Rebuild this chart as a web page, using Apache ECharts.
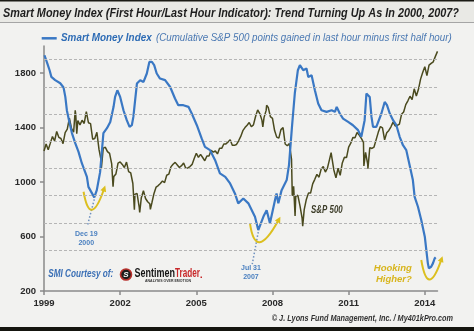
<!DOCTYPE html>
<html><head><meta charset="utf-8">
<script src="https://cdn.jsdelivr.net/npm/echarts@6/dist/echarts.min.js"></script>
<style>html,body{margin:0;padding:0;background:#f2f2f0;}#c{width:474px;height:331px;}</style>
</head><body><div id="c"></div>
<script>
// ---- data ----
const yearTicks = [1999, 2002, 2005, 2008, 2011, 2014];
const leftAxisLabels = [200, 600, 1000, 1400, 1800];
const gridValues = [500, 700, 900, 1100, 1300, 1500, 1700, 1900];

const spxStartValue = 1229; // 1999-01-01
const spxMonthEnd = [
 1279.6,1238.3,1286.4,1335.2,1301.8,1372.7,1328.7,1320.4,1282.7,1362.9,1388.9,1469.3,
 1394.5,1366.4,1498.6,1452.4,1420.6,1454.6,1430.8,1517.7,1436.5,1429.4,1315.2,1320.3,
 1366.0,1239.9,1160.3,1249.5,1255.8,1224.4,1211.2,1133.6,1040.9,1059.8,1139.5,1148.1,
 1130.2,1106.7,1147.4,1076.9,1067.1,989.8,911.6,916.1,815.3,885.8,936.3,879.8,
 855.7,841.2,848.2,916.9,963.6,974.5,990.3,1008.0,996.0,1050.7,1058.2,1111.9,
 1131.1,1144.9,1126.2,1107.3,1120.7,1140.8,1101.7,1104.2,1114.6,1130.2,1173.8,1211.9,
 1181.3,1203.6,1180.6,1156.9,1191.5,1191.3,1234.2,1220.3,1228.8,1207.0,1249.5,1248.3,
 1280.1,1280.7,1294.8,1310.6,1270.1,1270.2,1276.7,1303.8,1335.9,1377.9,1400.6,1418.3,
 1438.2,1406.8,1420.9,1482.4,1530.6,1503.4,1455.3,1474.0,1526.8,1549.4,1481.1,1468.4,
 1378.6,1330.6,1322.7,1385.6,1400.4,1280.0,1267.4,1282.8,1166.4,968.8,896.2,903.3,
 825.9,735.1,797.9,872.8,919.1,919.3,987.5,1020.6,1057.1,1036.2,1095.6,1115.1,
 1073.9,1104.5,1169.4,1186.7,1089.4,1030.7,1101.6,1049.3,1141.2,1183.3,1180.6,1257.6,
 1286.1,1327.2,1325.8,1363.6,1345.2,1320.6,1292.3,1218.9,1131.4,1253.3,1247.0,1257.6,
 1312.4,1365.7,1408.5,1397.9,1310.3,1362.2,1379.3,1406.6,1440.7,1412.2,1416.2,1426.2,
 1498.1,1514.7,1569.2,1597.6,1630.7,1606.3,1685.7,1633.0,1681.6,1756.5,1805.8,1848.4,
 1782.6,1859.5,1872.3,1884.0,1923.6,1960.2
];
const spxExtremeDates  = [2000.23,2000.29,2001.26,2001.72,2002.56,2002.77,2003.19,2007.62,2007.77,2008.78,2008.89,2009.19,2010.31,2010.50,2011.33,2011.60,2011.76];
const spxExtremeValues = [1527,1356,1103,966,797,777,800,1406,1565,899,752,677,1217,1022,1364,1119,1099];

const smiDates = [1999.02,1999.13,1999.22,1999.29,1999.44,1999.64,1999.77,1999.84,1999.90,
 2000.01,2000.10,2000.23,2000.36,2000.49,2000.69,2000.75,2000.98,
 2001.08,2001.21,2001.34,2001.48,2001.61,2001.74,2001.80,2001.89,
 2002.00,2002.13,2002.26,2002.37,2002.46,2002.52,2002.59,2002.66,2002.79,2002.92,
 2003.05,2003.15,2003.25,2003.34,2003.44,2003.57,2003.77,2003.97,
 2004.16,2004.29,2004.49,2004.69,2004.82,
 2005.02,2005.21,2005.34,2005.54,2005.74,2005.93,
 2006.14,2006.33,2006.52,2006.65,2006.85,
 2007.05,2007.31,2007.44,2007.64,2007.77,2007.90,
 2008.10,2008.16,2008.23,2008.36,2008.56,2008.65,2008.77,2008.88,
 2009.00,2009.08,2009.21,2009.34,2009.41,2009.54,2009.67,2009.80,2009.93,
 2010.13,2010.33,2010.46,2010.53,2010.65,2010.78,2010.98,
 2011.17,2011.37,2011.50,2011.63,2011.70,2011.76,2011.83,2011.90,2011.96,
 2012.09,2012.29,2012.42,2012.51,2012.62,2012.75,2012.88,
 2013.01,2013.14,2013.27,2013.40,2013.53,2013.60,2013.73,2013.86,
 2014.00,2014.06,2014.12,2014.16,2014.25,2014.32,2014.39,2014.43];
const smiValues = [1932,1873,1822,1773,1749,1726,1695,1626,1528,
 1433,1360,1286,1222,1139,1039,965,888,
 941,1073,1360,1396,1442,1553,1626,1675,
 1626,1528,1455,1406,1418,1479,1602,1724,1749,1736,
 1798,1883,1883,1859,1798,1761,1749,1699,
 1614,1565,1565,1553,1504,
 1418,1321,1259,1235,1161,1064,
 1039,990,917,844,880,
 844,745,648,745,794,697,
 868,917,844,941,1015,1125,1411,1653,
 1822,1859,1822,1834,1773,1785,1675,1578,1528,
 1516,1528,1516,1553,1504,1467,1442,
 1418,1382,1333,1455,1651,1663,1626,1479,1406,
 1406,1504,1589,1565,1504,1455,1418,
 1333,1271,1235,1125,1015,892,819,721,
 599,501,403,367,378,403,440,447];

// ---- build series data ----
const spxData = [[1999, spxStartValue]];
spxMonthEnd.forEach((v, i) => spxData.push([1999 + (i + 1) / 12, v]));
spxExtremeDates.forEach((t, i) => spxData.push([t, spxExtremeValues[i]]));
spxData.sort((a, b) => a[0] - b[0]);
const smiData = smiDates.map((t, i) => [t, smiValues[i]]);

const BLUE = '#3a78c4', OLIVE = '#4a4a1e', YEL = '#dcbf1e', AXIS = '#8a8a8a';
const plain = v => String(Math.round(v));

const chart = echarts.init(document.getElementById('c'));
chart.setOption({
  backgroundColor: '#f2f2f0',
  animation: false,
  grid: { left: 44, right: 36.5, top: 46, bottom: 40 },
  xAxis: {
    type: 'value', min: 1999, max: 2014.5,
    axisLine: { lineStyle: { color: AXIS, width: 1.5 } },
    axisTick: { show: true, length: 4, customValues: yearTicks, lineStyle: { color: AXIS, width: 1.5 } },
    axisLabel: { customValues: yearTicks, formatter: plain, margin: 7, color: '#2a2a2a', fontWeight: 'bold', fontSize: 9.5, fontFamily: 'Liberation Sans' },
    splitLine: { show: false }
  },
  yAxis: [{
    type: 'value', min: 200, max: 2000, interval: 200,
    axisLine: { show: true, lineStyle: { color: AXIS, width: 1.5 } },
    axisTick: { show: true, length: 4, customValues: leftAxisLabels, lineStyle: { color: AXIS, width: 1.5 } },
    axisLabel: { customValues: leftAxisLabels, formatter: plain, margin: 8, color: '#2a2a2a', fontWeight: 'bold', fontSize: 9.5, fontFamily: 'Liberation Sans' },
    splitLine: { show: false }
  }, {
    type: 'value', min: 200, max: 2000, show: false, splitLine: { show: false }
  }],
  series: [
    { type: 'line', data: [], z: 1, silent: true,
      markLine: { silent: true, symbol: ['none', 'none'], label: { show: false },
        lineStyle: { color: '#b5b5b5', type: [3, 2], width: 1 },
        data: gridValues.map(v => ({ yAxis: v })) } },
    { name: 'S&P 500', type: 'line', data: spxData, showSymbol: false, z: 3,
      lineStyle: { color: OLIVE, width: 1.5 } },
    { name: 'Smart Money Index', type: 'line', yAxisIndex: 1, data: smiData, showSymbol: false, z: 4,
      lineStyle: { color: BLUE, width: 2.2 } }
  ]
});

// ---- annotations ----
const P = (t, v) => chart.convertToPixel({ xAxisIndex: 0, yAxisIndex: 0 }, [t, v]);
const mctx = document.createElement('canvas').getContext('2d');
function fitText(text, x, y, target, font, fill, extra) {
  mctx.font = font;
  const s = target / mctx.measureText(text).width;
  return Object.assign({ type: 'text', x: x, y: y, scaleX: s, style: { text: text, font: font, fill: fill, verticalAlign: 'middle', align: 'left' } }, extra || {});
}
function centerText(text, cx, y, font, fill) {
  return { type: 'text', x: cx, y: y, style: { text: text, font: font, fill: fill, align: 'center', verticalAlign: 'middle' } };
}
function hookArc(anchor, s, c, e) {
  const x1 = anchor[0] + s[0], y1 = anchor[1] + s[1];
  const cx = anchor[0] + c[0], cy = anchor[1] + c[1];
  const x2 = anchor[0] + e[0], y2 = anchor[1] + e[1];
  let dx = x2 - cx, dy = y2 - cy; const L = Math.hypot(dx, dy); dx /= L; dy /= L;
  const px = -dy, py = dx;
  return [
    { type: 'bezierCurve', shape: { x1, y1, x2: x2 - dx * 2, y2: y2 - dy * 2, cpx1: cx, cpy1: cy }, style: { stroke: YEL, lineWidth: 2, fill: null } },
    { type: 'polygon', shape: { points: [[x2 + dx * 3, y2 + dy * 3], [x2 - dx * 3 + px * 3, y2 - dy * 3 + py * 3], [x2 - dx * 3 - px * 3, y2 - dy * 3 - py * 3]] }, style: { fill: YEL } }
  ];
}
function dotted(a, b) {
  return { type: 'line', shape: { x1: a[0], y1: a[1], x2: b[0], y2: b[1] }, style: { stroke: '#6e90bf', lineWidth: 1.5, lineDash: [1.5, 2] } };
}

const decA = P(2000.98, 888), julA = P(2007.44, 648), hookA = P(2014.16, 367), spA = P(2009.52, 794);
const g = [];
// frame
g.push({ type: 'rect', shape: { x: 0, y: 0, width: 474, height: 22.5 }, style: { fill: '#e9e9e5' } });
g.push({ type: 'line', shape: { x1: 0, y1: 22.5, x2: 474, y2: 22.5 }, style: { stroke: '#a5a5a5', lineWidth: 1 } });
g.push({ type: 'rect', shape: { x: 0, y: 0, width: 474, height: 1.5 }, style: { fill: '#1a1a14' } });
g.push({ type: 'rect', shape: { x: 0, y: 327, width: 474, height: 4 }, style: { fill: '#15150f' } });
// title
g.push(fitText('Smart Money Index (First Hour/Last Hour Indicator): Trend Turning Up As In 2000, 2007?', 3, 13.5, 456, 'italic bold 12px "Liberation Sans"', '#1e1e1e'));
// legend
g.push({ type: 'line', shape: { x1: 41.7, y1: 38.3, x2: 56.7, y2: 38.3 }, style: { stroke: BLUE, lineWidth: 2.5 } });
g.push(fitText('Smart Money Index', 61, 38.3, 90.7, 'italic bold 11.5px "Liberation Sans"', '#2e6cb5'));
g.push(fitText('(Cumulative S&P 500 points gained in last hour minus first half hour)', 156, 38.3, 295.7, 'italic 11px "Liberation Sans"', '#4a78b2'));
// S&P label
g.push(fitText('S&P 500', spA[0], spA[1], 31.6, 'italic bold 10.5px "Liberation Sans"', '#3c3c28'));
// Dec 2000
g.push(dotted([decA[0], decA[1] + 2], [decA[0] - 7, decA[1] + 29]));
g.push(...hookArc(decA, [-10.7, -5.6], [-4.2, 31.3], [10, -9]));
g.push(centerText('Dec 19', decA[0] - 8, decA[1] + 37, 'bold 7px "Liberation Sans"', '#4b80c0'));
g.push(centerText('2000', decA[0] - 8, decA[1] + 45.5, 'bold 7px "Liberation Sans"', '#4b80c0'));
// Jul 2007
g.push(dotted([julA[0], julA[1] + 2], [julA[0] - 6, julA[1] + 34]));
g.push(...hookArc(julA, [-8.3, -6.7], [-2.8, 32.1], [20.7, -10.7]));
g.push(centerText('Jul 31', julA[0] - 7.3, julA[1] + 38.3, 'bold 7px "Liberation Sans"', '#4b80c0'));
g.push(centerText('2007', julA[0] - 7.3, julA[1] + 47.3, 'bold 7px "Liberation Sans"', '#4b80c0'));
// 2014 hook
g.push(...hookArc(hookA, [-7.6, -8.3], [-1.1, 30.2], [12.7, -9.3]));
g.push(centerText('Hooking', hookA[0] - 36, hookA[1] + 0.5, 'italic bold 9.5px "Liberation Sans"', '#d8b51c'));
g.push(centerText('Higher?', hookA[0] - 35, hookA[1] + 11.5, 'italic bold 9.5px "Liberation Sans"', '#d8b51c'));
// SMI courtesy
g.push(fitText('SMI Courtesy of:', 48.3, 274.5, 65, 'italic bold 10px "Liberation Sans"', '#3a6fb5'));
g.push({ type: 'circle', shape: { cx: 126, cy: 274.5, r: 5.5 }, style: { fill: '#1c1c1c', stroke: '#b8302c', lineWidth: 1.6 } });
g.push(centerText('S', 126, 274.8, 'italic bold 8px "Liberation Sans"', '#ffffff'));
g.push(fitText('Sentimen', 134.5, 273, 40.5, 'bold 13px "Liberation Sans Narrow", "Liberation Sans"', '#151515'));
g.push(fitText('Trader', 175, 273, 25, 'bold 13px "Liberation Sans Narrow", "Liberation Sans"', '#c8282a'));
g.push({ type: 'rect', shape: { x: 200.5, y: 276.5, width: 1.5, height: 1.5 }, style: { fill: '#c8282a' } });
g.push(fitText('ANALYSIS OVER EMOTION', 145, 280.6, 46, 'bold 4px "Liberation Sans"', '#333'));
// footer
g.push(fitText('\u00A9 J. Lyons Fund Management, Inc. / My401kPro.com', 271.7, 318.3, 181.3, 'italic bold 9.5px "Liberation Sans"', '#333333'));

chart.setOption({ graphic: { elements: g } });
</script></body></html>
